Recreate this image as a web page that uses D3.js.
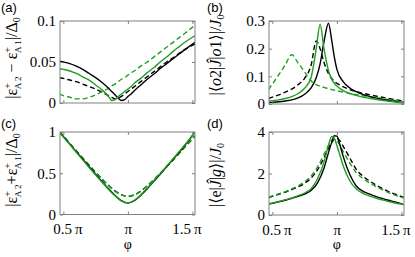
<!DOCTYPE html>
<html>
<head>
<meta charset="utf-8">
<script src="https://cdn.jsdelivr.net/npm/d3@7"></script>
<style>
  body { margin: 0; background: #fff; }
  svg text { font-family: "Liberation Serif", "Times New Roman", "DejaVu Serif", serif; }
</style>
</head>
<body>
<svg id="fig" width="415" height="257"></svg>
<script>
// phi in units of pi
const phiDomain = [0.474, 1.52];
const phiTicks = [0.5, 1, 1.5];
const phiTickLabels = ["0.5\u2009π", "π", "1.5\u2009π"];

// (a) |e+A2 - e+A1| / Delta0
const phiA = [0.47, 0.5, 0.55, 0.6, 0.65, 0.7, 0.75, 0.8, 0.85, 0.875, 0.9, 0.925, 0.95, 0.975, 1.0, 1.025, 1.05, 1.1, 1.15, 1.2, 1.25, 1.3, 1.35, 1.4, 1.45, 1.52];
const aBlackSolid = [.051, .050, .048, .045, .041, .036, .031, .025, .018, .014, .010, .006, .003, .004, .008, .011, .015, .022, .029, .035, .042, .048, .054, .060, .066, .074];
const aBlackDash  = [.031, .030, .028, .026, .023, .020, .017, .013, .009, .007, .005, .006, .008, .011, .014, .017, .020, .026, .032, .038, .044, .050, .055, .061, .066, .072];
const aGreenSolid = [.042, .041, .039, .036, .032, .028, .022, .016, .008, .003, .004, .008, .011, .014, .017, .020, .024, .030, .037, .043, .050, .056, .063, .069, .075, .082];
const aGreenDash  = [.011, .009, .007, .005, .005, .007, .010, .014, .018, .021, .023, .026, .029, .031, .034, .037, .039, .045, .050, .056, .062, .068, .074, .080, .086, .095];
const yTicksA = [0, 0.05, 0.1];
const yLabelsA = ["0", "0.05", "0.1"];

// (b) |<o2|J|o1>| / J0
const phiB = [0.47, 0.5, 0.55, 0.6, 0.65, 0.7, 0.75, 0.8, 0.84, 0.87, 0.9, 0.935, 0.96, 0.98, 1.0, 1.05, 1.1, 1.15, 1.2, 1.3, 1.4, 1.52];
const bBlackSolid = [.005, .006, .008, .011, .015, .022, .035, .058, .095, .145, .225, .292, .230, .170, .125, .080, .058, .045, .035, .022, .013, .004];
const bBlackDash  = [.020, .025, .033, .043, .054, .070, .093, .140, .228, .200, .150, .110, .092, .082, .075, .062, .052, .045, .039, .029, .020, .010];
const bGreenSolid = [.010, .012, .015, .020, .027, .038, .057, .095, .200, .288, .200, .120, .090, .075, .065, .048, .038, .031, .025, .017, .010, .004];
const bGreenDash  = [.052, .072, .106, .142, .178, .148, .116, .084, .070, .064, .060, .055, .052, .050, .048, .043, .038, .034, .030, .023, .016, .008];
const yTicksB = [0, 0.1, 0.2, 0.3];
const yLabelsB = ["0", "0.1", "0.2", "0.3"];

// (c) |e+A2 + e+A1| / Delta0
const phiC = [0.47, 0.5, 0.55, 0.6, 0.65, 0.7, 0.75, 0.8, 0.85, 0.9, 0.95, 1.0, 1.05, 1.1, 1.15, 1.2, 1.25, 1.3, 1.35, 1.4, 1.45, 1.52];
const cBlackSolid = [1.0, 0.945, 0.853, 0.761, 0.669, 0.578, 0.488, 0.399, 0.313, 0.234, 0.168, 0.140, 0.168, 0.234, 0.313, 0.399, 0.488, 0.578, 0.669, 0.761, 0.853, 1.0];
const cBlackDash  = [1.0, 0.951, 0.861, 0.772, 0.684, 0.597, 0.512, 0.430, 0.354, 0.287, 0.239, 0.220, 0.237, 0.283, 0.346, 0.418, 0.496, 0.578, 0.661, 0.745, 0.831, 0.951];
const cGreenSolid = [1.0, 0.940, 0.848, 0.755, 0.662, 0.570, 0.480, 0.390, 0.304, 0.226, 0.163, 0.140, 0.172, 0.240, 0.320, 0.406, 0.495, 0.585, 0.676, 0.768, 0.860, 1.0];
const cGreenDash  = [0.995, 0.948, 0.858, 0.769, 0.680, 0.593, 0.508, 0.426, 0.350, 0.284, 0.237, 0.221, 0.239, 0.285, 0.349, 0.421, 0.499, 0.581, 0.664, 0.748, 0.834, 0.955];
const yTicksC = [0, 0.5, 1];
const yLabelsC = ["0", "0.5", "1"];

// (d) |<e|J|g>| / J0
const phiD = [0.47, 0.5, 0.55, 0.6, 0.65, 0.7, 0.75, 0.8, 0.85, 0.9, 0.93, 0.96, 0.98, 1.0, 1.02, 1.05, 1.1, 1.15, 1.2, 1.25, 1.3, 1.35, 1.4, 1.45, 1.52];
const dBlackSolid = [0.52, 0.56, 0.63, 0.71, 0.80, 0.90, 1.01, 1.18, 1.55, 2.25, 2.90, 3.50, 3.82, 3.80, 3.45, 2.80, 1.95, 1.40, 1.15, 1.02, 0.90, 0.80, 0.71, 0.63, 0.50];
const dBlackDash  = [0.85, 0.90, 1.00, 1.10, 1.22, 1.36, 1.53, 1.78, 2.18, 2.75, 3.15, 3.50, 3.66, 3.70, 3.60, 3.30, 2.75, 2.20, 1.88, 1.65, 1.45, 1.28, 1.13, 1.00, 0.85];
const dGreenSolid = [0.54, 0.58, 0.65, 0.73, 0.82, 0.93, 1.06, 1.27, 1.75, 2.55, 3.25, 3.78, 3.70, 3.35, 2.95, 2.35, 1.65, 1.25, 1.05, 0.92, 0.82, 0.73, 0.65, 0.58, 0.50];
const dGreenDash  = [0.87, 0.92, 1.02, 1.13, 1.26, 1.41, 1.60, 1.88, 2.32, 2.92, 3.30, 3.60, 3.66, 3.58, 3.40, 3.05, 2.50, 2.05, 1.77, 1.56, 1.38, 1.22, 1.08, 0.96, 0.82];
const yTicksD = [0, 2, 4];
const yLabelsD = ["0", "2", "4"];

const green = "#1f9e1f";
const axisGray = "#808080";
const serif = '"Liberation Serif", "Times New Roman", "DejaVu Serif", serif';
const svg = d3.select("#fig");

// label parts: t = text, s = font size, dx/dy shifts, it = italic
function richText(sel, parts) {
  parts.forEach(p => {
    const ts = sel.append("tspan").text(p.t);
    if (p.s) ts.style("font-size", p.s + "px");
    if (p.dx) ts.attr("dx", p.dx);
    if (p.dy) ts.attr("dy", p.dy);
    if (p.it) ts.style("font-style", "italic");
  });
}

function drawPanel(cfg) {
  const w = cfg.box[2] - cfg.box[0];
  const h = cfg.box[3] - cfg.box[1];
  const g = svg.append("g").attr("transform", `translate(${cfg.box[0]},${cfg.box[1]})`);

  const x = d3.scaleLinear().domain(phiDomain).range([0, w]);
  const y = d3.scaleLinear().domain(cfg.yDomain).range([h, 0]);

  svg.append("clipPath").attr("id", "clip-" + cfg.id)
    .append("rect").attr("width", w).attr("height", h);

  const line = d3.line()
    .x(d => x(d[0]))
    .y(d => y(d[1]))
    .curve(d3.curveMonotoneX);

  const plot = g.append("g").attr("clip-path", `url(#clip-${cfg.id})`);
  cfg.series.forEach(s => {
    plot.append("path")
      .datum(cfg.phi.map((p, i) => [p, s.vals[i]]))
      .attr("d", line)
      .attr("fill", "none")
      .attr("stroke", s.color)
      .attr("stroke-width", 1.4)
      .attr("stroke-dasharray", s.dash ? "5,3" : null);
  });

  // axes (ticks point inward, mirrored on top and right)
  const bottom = g.append("g").attr("transform", `translate(0,${h})`)
    .call(d3.axisBottom(x).tickValues(phiTicks).tickSize(-3).tickSizeOuter(0).tickPadding(9)
      .tickFormat((d, i) => cfg.xLabels ? phiTickLabels[i] : ""));
  g.append("g").call(d3.axisTop(x).tickValues(phiTicks).tickSize(-3).tickSizeOuter(0).tickFormat(""));
  g.append("g")
    .call(d3.axisLeft(y).tickValues(cfg.yTicks).tickSize(-3).tickSizeOuter(0).tickPadding(4)
      .tickFormat((d, i) => cfg.yLabels[i]));
  g.append("g").attr("transform", `translate(${w},0)`)
    .call(d3.axisRight(y).tickValues(cfg.yTicks).tickSize(-3).tickSizeOuter(0).tickFormat(""));

  g.selectAll(".domain").remove();
  g.selectAll("g").attr("font-family", serif).attr("font-size", 15);
  g.selectAll(".tick line").attr("stroke", axisGray);
  g.selectAll(".tick text")
    .attr("fill", "#000")
    .style("font-size", "15px")
    .style("font-family", serif);

  if (cfg.xLabels) {
    bottom.selectAll(".tick text").attr("dx", (d, i) => i === 0 ? 4 : (i === 2 ? -6 : 0));
    g.append("text")
      .attr("x", x(1)).attr("y", h + 34)
      .attr("text-anchor", "middle")
      .style("font-size", "14px")
      .text("φ");
  }

  g.append("rect")
    .attr("width", w).attr("height", h)
    .attr("fill", "none")
    .attr("stroke", axisGray)
    .attr("stroke-width", 1);

  const yl = svg.append("text")
    .attr("transform", `translate(${cfg.ylabelPos[0]},${cfg.ylabelPos[1]}) rotate(-90)`)
    .attr("text-anchor", "middle")
    .style("font-size", "16px");
  richText(yl, cfg.ylabel);

  svg.append("text")
    .attr("x", cfg.tagPos[0]).attr("y", cfg.tagPos[1])
    .style("font-family", '"Liberation Sans", Arial, sans-serif')
    .style("font-size", "13px")
    .text(cfg.tag);
}

function seriesOf(bd, bs, gd, gs) {
  return [
    { vals: bd, color: "#000", dash: true },
    { vals: gd, color: green, dash: true },
    { vals: bs, color: "#000", dash: false },
    { vals: gs, color: green, dash: false }
  ];
}

const epsLabel = (op) => [
  { t: "|ε" }, { t: "+", s: 10, dy: -6 }, { t: "A\u20092", s: 9, dx: -6, dy: 10 },
  { t: op + "ε", dy: -4 }, { t: "+", s: 10, dy: -6 }, { t: "A\u20091", s: 9, dx: -6, dy: 10 },
  { t: "|/Δ", dy: -4 }, { t: "0", s: 10, dy: 3 }
];

drawPanel({
  id: "a", tag: "(a)", tagPos: [1, 12], box: [60, 21, 195, 103],
  phi: phiA, yDomain: [0, 0.1], yTicks: yTicksA, yLabels: yLabelsA, xLabels: false,
  series: seriesOf(aBlackDash, aBlackSolid, aGreenDash, aGreenSolid),
  ylabel: epsLabel(" − "), ylabelPos: [17, 58]
});

drawPanel({
  id: "b", tag: "(b)", tagPos: [207, 12], box: [269, 21, 404, 104],
  phi: phiB, yDomain: [0, 0.3], yTicks: yTicksB, yLabels: yLabelsB, xLabels: false,
  series: seriesOf(bBlackDash, bBlackSolid, bGreenDash, bGreenSolid),
  ylabel: [
    { t: "|⟨" }, { t: "o", it: true }, { t: "2|" }, { t: "Ĵ", it: true }, { t: "|" },
    { t: "o", it: true }, { t: "1⟩|/" }, { t: "J", it: true }, { t: "0", s: 10, dy: 3 }
  ],
  ylabelPos: [221, 55]
});

drawPanel({
  id: "c", tag: "(c)", tagPos: [1, 128], box: [60, 132, 195, 214.5],
  phi: phiC, yDomain: [0, 1], yTicks: yTicksC, yLabels: yLabelsC, xLabels: true,
  series: seriesOf(cBlackDash, cBlackSolid, cGreenDash, cGreenSolid),
  ylabel: epsLabel("+"), ylabelPos: [17, 170]
});

drawPanel({
  id: "d", tag: "(d)", tagPos: [207, 128], box: [269, 132, 404, 215],
  phi: phiD, yDomain: [0, 4], yTicks: yTicksD, yLabels: yLabelsD, xLabels: true,
  series: seriesOf(dBlackDash, dBlackSolid, dGreenDash, dGreenSolid),
  ylabel: [
    { t: "|⟨e|" }, { t: "Ĵ", it: true }, { t: "|" }, { t: "g", it: true },
    { t: "⟩|/" }, { t: "J", it: true }, { t: "0", s: 10, dy: 3 }
  ],
  ylabelPos: [221, 175]
});
</script>
</body>
</html>
